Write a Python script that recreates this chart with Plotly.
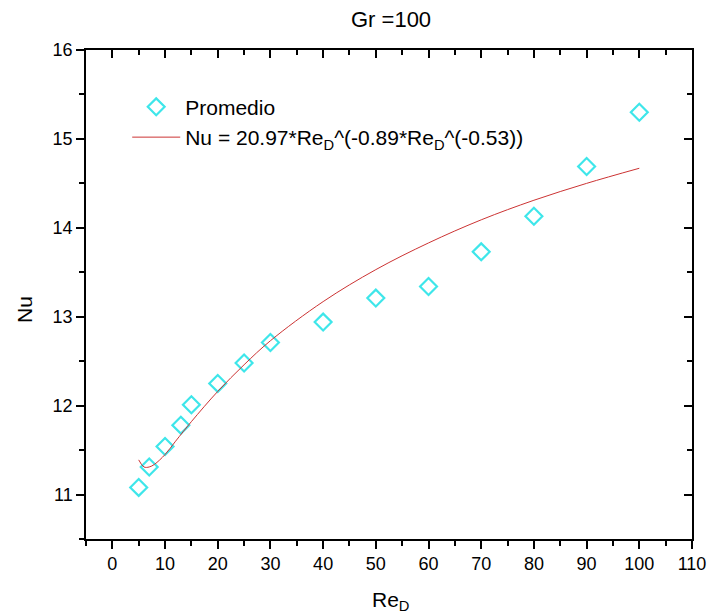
import plotly.graph_objects as go

# Data
re_points = [5, 7, 10, 13, 15, 20, 25, 30, 40, 50, 60, 70, 80, 90, 100]
nu_points = [11.08, 11.31, 11.54, 11.78, 12.01, 12.25, 12.48, 12.71, 12.94,
             13.21, 13.34, 13.73, 14.13, 14.69, 15.30]

re_fit = [5, 6, 7, 8, 10, 12, 15, 20, 25, 30, 40, 50, 60, 70, 80, 90, 100]
nu_fit = [11.39, 11.31, 11.31, 11.34, 11.45, 11.60, 11.82, 12.16, 12.46,
          12.73, 13.17, 13.53, 13.83, 14.09, 14.31, 14.50, 14.67]

x_range = [-5, 110]
y_range = [10.5, 16]

FONT = "Liberation Sans, Arial, sans-serif"

# page body has an 8px margin; figure is sized to compensate
OFF = 8
W, H = 722 - OFF, 615 - OFF
L, R, T, B = 86 - OFF, 30, 50 - OFF, 76
pw, ph = W - L - R, H - T - B


def px(x):
    return (x - OFF - L) / pw


def py(y):
    return 1 - (y - OFF - T) / ph


fig = go.Figure()
fig.add_trace(go.Scatter(
    x=re_points, y=nu_points, mode="markers", name="Promedio",
    marker=dict(symbol="diamond-open", size=13, color="#3ee6ea",
                line=dict(width=2.2, color="#3ee6ea")),
))
fig.add_trace(go.Scatter(
    x=re_fit, y=nu_fit, mode="lines",
    name="Nu = 20.97*Re<sub>D</sub>^(-0.89*Re<sub>D</sub>^(-0.53))",
    line=dict(color="#cc3333", width=1, shape="spline"),
))
# helper trace for mirrored axes
fig.add_trace(go.Scatter(x=[], y=[], xaxis="x2", yaxis="y2",
                         showlegend=False, hoverinfo="skip"))

axis_common = dict(showgrid=False, zeroline=False, showline=True,
                   linecolor="black", linewidth=1.5, tickcolor="black",
                   tickwidth=1.5, ticklen=8,
                   tickfont=dict(family=FONT, size=18, color="black"))

fig.update_layout(
    width=W, height=H,
    margin=dict(l=L, r=R, t=T, b=B),
    plot_bgcolor="white", paper_bgcolor="white",
    font=dict(family=FONT, color="black"),
    showlegend=True,
    legend=dict(x=0.068, y=0.925, xanchor="left", yanchor="top",
                bgcolor="rgba(0,0,0,0)", font=dict(family=FONT, size=21),
                itemwidth=48, tracegroupgap=0),
    xaxis=dict(range=x_range, dtick=10, tick0=0, ticks="outside",
               minor=dict(ticks="outside", dtick=5, tick0=0, ticklen=5,
                          tickwidth=1.5, tickcolor="black"),
               **axis_common),
    yaxis=dict(range=y_range, dtick=1, tick0=0, ticks="outside",
               minor=dict(ticks="outside", dtick=0.5, tick0=0, ticklen=5,
                          tickwidth=1.5, tickcolor="black"),
               **axis_common),
    xaxis2=dict(range=x_range, overlaying="x", side="top", dtick=10, tick0=0,
                ticks="inside", showticklabels=False,
                minor=dict(ticks="inside", dtick=5, tick0=0, ticklen=5,
                           tickwidth=1.5, tickcolor="black"),
                **axis_common),
    yaxis2=dict(range=y_range, overlaying="y", side="right", dtick=1, tick0=0,
                ticks="inside", showticklabels=False,
                minor=dict(ticks="inside", dtick=0.5, tick0=0, ticklen=5,
                           tickwidth=1.5, tickcolor="black"),
                **axis_common),
    annotations=[
        dict(text="Gr =100", x=px(391), y=py(19), xref="paper", yref="paper",
             xanchor="center", yanchor="middle", showarrow=False,
             font=dict(family=FONT, size=22)),
        dict(text="Nu", x=px(24), y=py(310), xref="paper", yref="paper",
             xanchor="center", yanchor="middle", showarrow=False,
             textangle=-90, font=dict(family=FONT, size=21)),
        dict(text="Re<sub>D</sub>", x=px(390), y=py(601), xref="paper",
             yref="paper", xanchor="center", yanchor="middle",
             showarrow=False, font=dict(family=FONT, size=21)),
    ],
)

fig.write_html("out.html")
